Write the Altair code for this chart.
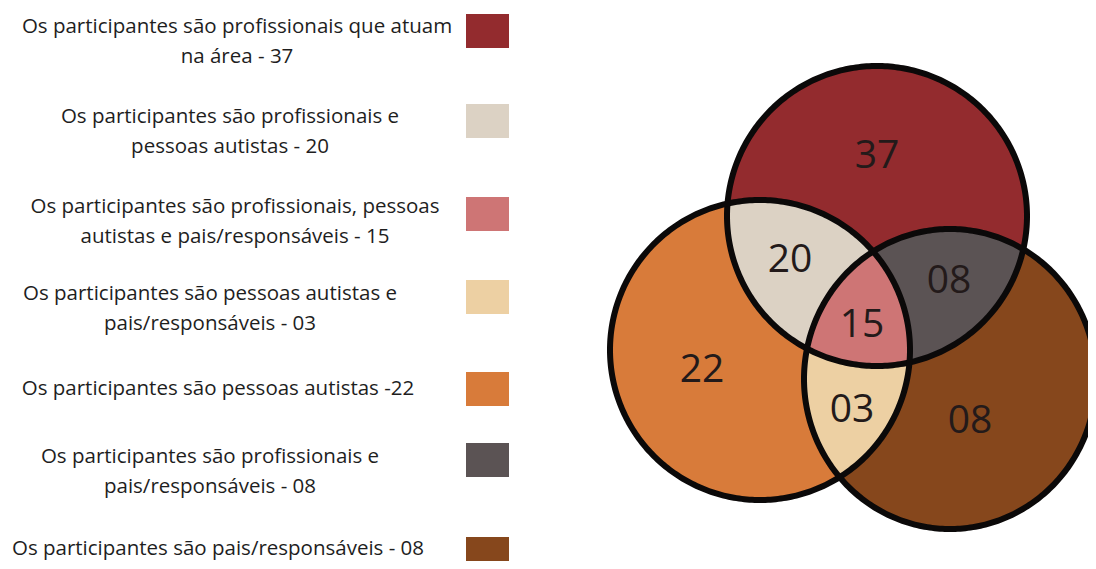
import altair as alt
import numpy as np
import pandas as pd

# ---------------- data ----------------
legend_lines = [
    ["Os participantes são profissionais que atuam", "na área - 37"],
    ["Os participantes são profissionais e", "pessoas autistas - 20"],
    ["Os participantes são profissionais, pessoas", "autistas e pais/responsáveis - 15"],
    ["Os participantes são pessoas autistas e", "pais/responsáveis - 03"],
    ["Os participantes são pessoas autistas -22"],
    ["Os participantes são profissionais e", "pais/responsáveis - 08"],
    ["Os participantes são pais/responsáveis - 08"],
]
region_keys = ["P", "PA", "PAR", "AR", "A", "PR", "R"]
region_counts = [37, 20, 15, 3, 22, 8, 8]
region_colors = ["#932B2E", "#DCD2C4", "#CE7575", "#EDD0A3", "#D87B3A", "#5B5354", "#86471C"]

# ---------------- layout (pixels of the page) ----------------
# circles: P = profissionais (top), A = pessoas autistas (left), R = pais/responsáveis (right)
circles = {"P": (877, 216, 150, 150), "A": (760, 350, 150, 150), "R": (950, 379, 146, 150)}
label_pos = {"P": (877, 154), "PA": (790, 258), "PAR": (862, 323), "AR": (852, 408),
             "A": (702, 368), "PR": (949, 279), "R": (970, 419)}
legend_cx = [237, 230, 235, 210, 218, 210, 218]
legend_y1 = [27, 117, 207, 294, 389, 457, 549]
legend_sq_top = [14, 104, 197, 280, 372, 443, 537]
LINE_H = 29.5
SQ_X0, SQ_X1, SQ_H = 466, 509, 34
NUM_FS = 39
TXT_FS = 20.5

color_scale = alt.Scale(domain=region_keys, range=region_colors)
X = lambda f: alt.X(f, type="quantitative", scale=alt.Scale(domain=[8, 1088], nice=False, zero=False), axis=None)
Y = lambda f: alt.Y(f, type="quantitative", scale=alt.Scale(domain=[8, 561], nice=False, zero=False, reverse=True), axis=None)


def region_slices(key):
    sets = list(key)
    x0 = max(circles[s][0] - circles[s][2] for s in sets)
    x1 = min(circles[s][0] + circles[s][2] for s in sets)
    rows = []
    for x in np.linspace(x0, x1, 700):
        lo, hi = -1e9, 1e9
        for s in sets:
            cx, cy, rx, ry = circles[s]
            t = 1 - ((x - cx) / rx) ** 2
            if t < 0:
                lo, hi = 1, 0
                break
            h = ry * np.sqrt(t)
            lo, hi = max(lo, cy - h), min(hi, cy + h)
        if lo <= hi:
            rows.append({"key": key, "x": float(x), "y": float(lo), "y2": float(hi)})
    return rows


def area_layer(keys):
    rows = []
    for k in keys:
        rows += region_slices(k)
    return alt.Chart(pd.DataFrame(rows)).mark_area(interpolate="linear").encode(
        x=X("x"), y=Y("y"), y2="y2",
        color=alt.Color("key:N", scale=color_scale, legend=None),
        detail="key:N",
    )


fills = [area_layer(["P", "A", "R"]), area_layer(["PA", "PR", "AR"]), area_layer(["PAR"])]

# outlines
orows = []
for name, (cx, cy, rx, ry) in circles.items():
    for i, a in enumerate(np.linspace(0, 2 * np.pi, 361)):
        orows.append({"c": name, "i": i, "x": cx + rx * np.cos(a), "y": cy + ry * np.sin(a)})
outline = alt.Chart(pd.DataFrame(orows)).mark_line(
    color="#0b0909", strokeWidth=6, strokeJoin="round", strokeCap="round"
).encode(x=X("x"), y=Y("y"), order="i:Q", detail="c:N")

# region numbers
nrows = []
for k, n in zip(region_keys, region_counts):
    lx, ly = label_pos[k]
    nrows.append({"t": f"{n:02d}", "x": lx, "y": ly + 0.357 * NUM_FS})
numbers = alt.Chart(pd.DataFrame(nrows)).mark_text(
    font="Open Sans", fontSize=NUM_FS, color="#231a1a", baseline="alphabetic", align="center"
).encode(x=X("x"), y=Y("y"), text="t:N")

# legend texts
trows = []
for i, lines in enumerate(legend_lines):
    for j, ln in enumerate(lines):
        trows.append({"t": ln, "x": legend_cx[i], "y": legend_y1[i] + j * LINE_H})
ltext = alt.Chart(pd.DataFrame(trows)).mark_text(
    font="Open Sans", fontSize=TXT_FS, color="#1e1e1e", baseline="middle", align="center"
).encode(x=X("x"), y=Y("y"), text="t:N")

# legend swatches
srows = [{"key": k, "x": SQ_X0, "x2": SQ_X1, "y": legend_sq_top[i], "y2": legend_sq_top[i] + SQ_H}
         for i, k in enumerate(region_keys)]
swatches = alt.Chart(pd.DataFrame(srows)).mark_rect().encode(
    x=X("x"), x2="x2", y=Y("y"), y2="y2",
    color=alt.Color("key:N", scale=color_scale, legend=None),
)

chart = alt.layer(*fills, outline, numbers, ltext, swatches).properties(
    width=1080, height=553, padding=0, background="white",
    autosize=alt.AutoSizeParams(type="none"),
).configure_view(stroke=None, strokeWidth=0)

chart.save("out.html", embed_options={"renderer": "svg", "actions": False})
